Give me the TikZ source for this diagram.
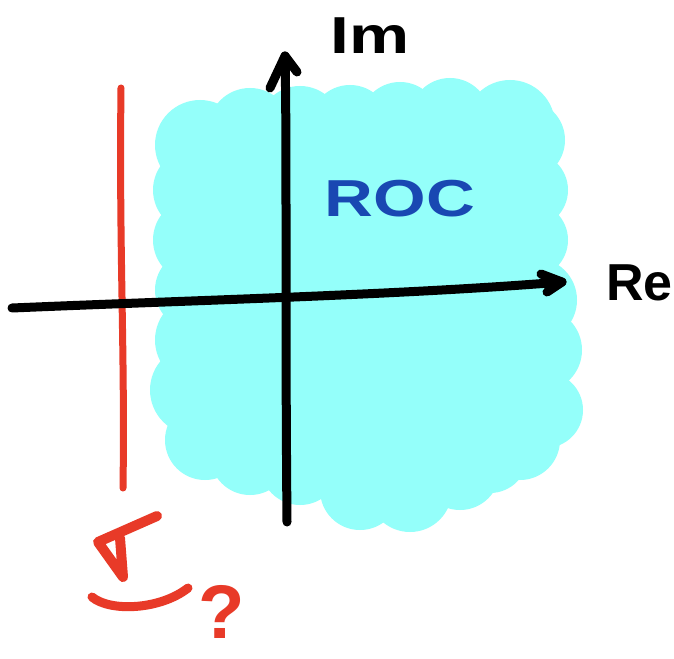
\documentclass[tikz,border=0pt]{standalone}
\usepackage{fontspec}
\setmainfont{Liberation Sans}
\definecolor{roc}{RGB}{148,255,250}
\definecolor{rocblue}{RGB}{25,72,178}
\definecolor{mred}{RGB}{232,58,40}
\tikzset{
  axis/.style={line width=9pt, line cap=round, line join=round, black},
  redline/.style={line width=7pt, line cap=round, line join=round, mred},
  hand/.style={font=\bfseries\fontsize{52}{54}\selectfont, inner sep=0pt},
}
\begin{document}
\begin{tikzpicture}[x=1pt,y=-1pt]
\useasboundingbox (0,0) rectangle (674,658);
\fill[white] (0,0) rectangle (674,658);
% ROC blob
\begin{scope}[fill=roc]
\fill (190,125) rectangle (545,470);
\foreach \x/\y/\r in {
 200/145/45, 250/130/42, 300/128/42, 350/125/40, 400/122/40, 450/118/40, 510/125/45, 525/140/40,
 195/190/42, 195/240/42, 195/290/40, 200/340/45, 195/390/45, 205/440/40,
 530/190/38, 530/240/38, 535/300/42, 540/350/42, 545/410/38, 520/440/40,
 250/455/40, 300/465/40, 360/490/40, 410/490/42, 460/470/40, 490/455/38}
  \fill (\x,\y) circle (\r);
\end{scope}
% red vertical line
\draw[redline] (121,88) .. controls (119,250) and (125,350) .. (123,488);
% axes
\coordinate (yb) at (287,522);
\coordinate (yt) at (285,56);
\coordinate (xl) at (12,308);
\coordinate (xr) at (562,282);
\draw[axis] (yb) .. controls (285,300) and (287,150) .. (yt);
\draw[axis] (270,88) -- (yt) -- (297,72);
\draw[axis] (xl) .. controls (200,300) and (400,295) .. (xr);
\draw[axis] (541,274) -- (xr) -- (547,292);
% labels
\node[hand, anchor=west, xscale=1.3] (im) at (330,36) {Im};
\node[hand, anchor=west] (re) at (606,283) {Re};
\node[hand, rocblue, anchor=center, xscale=1.3] (rc) at (400,199) {ROC};
% red symbol
\draw[redline, line width=10pt] (157,516) -- (98,542) -- (123,577) -- (120,538);
\draw[redline, line width=9pt] (92,597) .. controls (110,612) and (160,610) .. (188,588);
% question mark
\node[font=\bfseries\fontsize{76}{76}\selectfont, mred, inner sep=0pt] (q) at (222,612) {?};
\end{tikzpicture}
\end{document}
